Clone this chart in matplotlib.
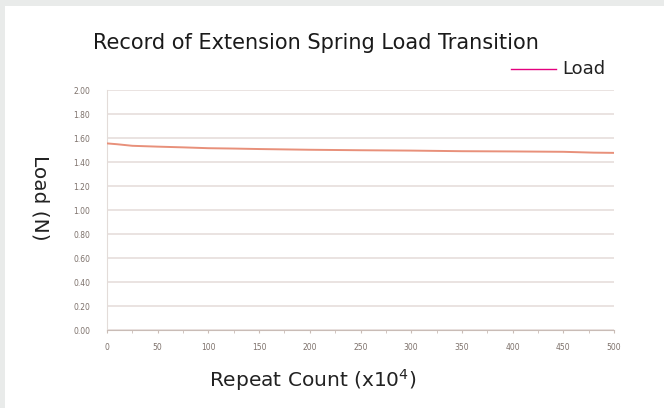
import numpy as np
import matplotlib.pyplot as plt
from matplotlib.patches import Rectangle

# values
repeat_count = [0, 10, 25, 50, 75, 100, 125, 150, 175, 200, 250, 300, 350, 400, 450, 480, 500]
load = [1.555, 1.548, 1.535, 1.528, 1.522, 1.515, 1.512, 1.508, 1.505, 1.502, 1.498, 1.495, 1.49, 1.488, 1.485, 1.478, 1.476]
y_ticks = [0.0, 0.2, 0.4, 0.6, 0.8, 1.0, 1.2, 1.4, 1.6, 1.8, 2.0]
x_ticks = [0, 50, 100, 150, 200, 250, 300, 350, 400, 450, 500]

fig = plt.figure(figsize=(6.64, 4.08), dpi=100)
fig.patch.set_facecolor('#e9ebea')
# white card
fig.patches.append(Rectangle((5 / 664, 0), 1, 1 - 6 / 408, transform=fig.transFigure,
                             facecolor='white', edgecolor='none', zorder=-10))

ax = fig.add_axes([107 / 664, 1 - 330 / 408, (614 - 107) / 664, (330 - 90) / 408])
ax.set_facecolor('white')

ax.plot(repeat_count, load, color='#e8907a', lw=1.4, zorder=3)

ax.set_xlim(0, 500)
ax.set_ylim(0, 2.0)
ax.set_yticks(y_ticks)
ax.set_yticklabels([f'{v:.2f}' for v in y_ticks])
ax.set_xticks(x_ticks)
ax.set_xticks(np.arange(0, 501, 25), minor=True)
ax.tick_params(axis='both', labelsize=5.5, labelcolor='#7d716b', colors='#c9bcb6', length=2)
ax.tick_params(axis='x', which='minor', length=2, color='#c9bcb6')
ax.tick_params(axis='y', length=0, pad=12)
ax.tick_params(axis='x', pad=7)

ax.grid(axis='y', color='#e8e1de', lw=1.3)
for s in ['top', 'right']:
    ax.spines[s].set_visible(False)
ax.spines['left'].set_color('#e3dcd9')
ax.spines['bottom'].set_color('#c9bcb6')

fig.text(315.5 / 664, 1 - 43 / 408, 'Record of Extension Spring Load Transition',
         ha='center', va='center', fontsize=15, color='#1a1a1a')

# legend
fig.lines.append(plt.Line2D([511 / 664, 556 / 664], [1 - 69 / 408, 1 - 69 / 408],
                            transform=fig.transFigure, color='#e4007f', lw=1))
fig.text(562 / 664, 1 - 69 / 408, 'Load', ha='left', va='center', fontsize=13, color='#222222')

fig.text(313 / 664, 1 - 380 / 408, r'Repeat Count (x10$^4$)', ha='center', va='center',
         fontsize=14.5, color='#222222')
fig.text(40 / 664, 1 - 198 / 408, 'Load (N)', ha='center', va='center', rotation=270,
         fontsize=14.5, color='#222222')

fig.savefig('out.png', dpi=100, facecolor=fig.get_facecolor())
